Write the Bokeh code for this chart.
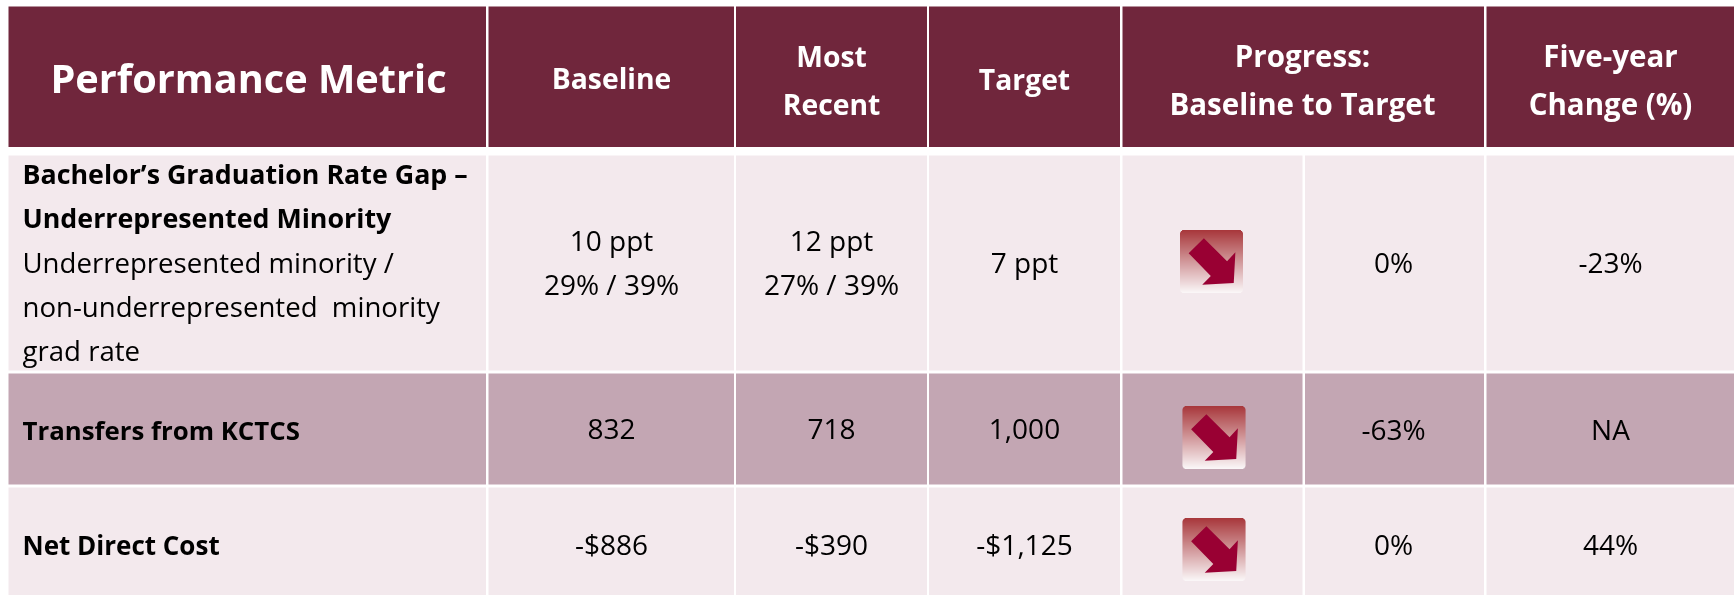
from bokeh.embed import file_html
from bokeh.resources import INLINE
from bokeh.plotting import figure
from bokeh.models import Range1d
from bokeh.core.properties import value

# ---- content
header_labels = [["Performance Metric"], ["Baseline"], ["Most", "Recent"], ["Target"],
                 ["Progress:", "Baseline to Target"], ["Five-year", "Change (%)"]]
metric_bold = [["Bachelor\u2019s Graduation Rate Gap \u2013", "Underrepresented Minority"],
               ["Transfers from KCTCS"], ["Net Direct Cost"]]
metric_sub = ["Underrepresented minority /", "non-underrepresented\u00a0 minority", "grad rate"]
baseline_vals = [["10 ppt", "29% / 39%"], ["832"], ["-$886"]]
recent_vals = [["12 ppt", "27% / 39%"], ["718"], ["-$390"]]
target_vals = [["7 ppt"], ["1,000"], ["-$1,125"]]
progress_vals = ["0%", "-63%", "0%"]
change_vals = ["-23%", "NA", "44%"]

MAROON, LIGHT, MID, BLACK = "#70263c", "#f3e9ed", "#c3a6b3", "#000000"
FONT = "Open Sans"
W, H = 1735, 595
p = figure(width=W, height=H, output_backend="svg", toolbar_location=None,
           x_range=Range1d(0, W), y_range=Range1d(H, 0), min_border=0,
           outline_line_color=None, background_fill_color="white", border_fill_color="white")
p.axis.visible = False
p.grid.visible = False
p.styles = {"position": "fixed", "left": "0", "top": "0"}

# ---- cells
head_edges = [(8, 485.5), (488, 733.5), (735.5, 926.5), (928.5, 1119.5), (1122, 1483.5), (1486, 1733.5)]
body_edges = [(8, 485.5), (488, 733.5), (735.5, 926.5), (928.5, 1119.5), (1122, 1302), (1304.5, 1483.5), (1486, 1733.5)]
row_edges = [(155, 370), (373, 484), (487, 595)]
row_fill = [LIGHT, MID, LIGHT]

p.quad(left=[e[0] for e in head_edges], right=[e[1] for e in head_edges],
       top=[6] * 6, bottom=[146.5] * 6, fill_color=MAROON, line_color=None)
for (t, b), c in zip(row_edges, row_fill):
    p.quad(left=[e[0] for e in body_edges], right=[e[1] for e in body_edges],
           top=[t] * 7, bottom=[b] * 7, fill_color=c, line_color=None)


def txt(x, y, s, size, bold=False, color=BLACK, align="center"):
    p.text(x=[x], y=[y - 0.38 * size], text=[s], text_font=value(FONT), text_font_size=f"{size}px",
           text_font_style="bold" if bold else "normal", text_color=color,
           text_align=align, text_baseline="alphabetic")


# ---- header text
HS = 29.5
txt(248, 93, header_labels[0][0], 39.7, True, "white")
txt(611, 88, header_labels[1][0], 28.3, True, "white")
txt(831, 66, header_labels[2][0], 28.3, True, "white")
txt(831, 114, header_labels[2][1], 28.3, True, "white")
txt(1024, 89, header_labels[3][0], 28.3, True, "white")
txt(1302, 66, header_labels[4][0], HS, True, "white")
txt(1302, 114, header_labels[4][1], HS, True, "white")
txt(1610, 66, header_labels[5][0], HS, True, "white")
txt(1610, 114, header_labels[5][1], HS, True, "white")

# ---- metric column
FS = 28
txt(22, 183, metric_bold[0][0], 26.8, True, align="left")
txt(22, 227, metric_bold[0][1], 26.8, True, align="left")
for y, s in zip([272, 316, 360], metric_sub):
    txt(22, y, s, 27.6, align="left")
txt(22, 439, metric_bold[1][0], 25.8, True, align="left")
txt(22, 554, metric_bold[2][0], 26, True, align="left")

# ---- value columns
txt(611, 250, baseline_vals[0][0], FS)
txt(611, 294, baseline_vals[0][1], FS)
txt(831, 250, recent_vals[0][0], FS)
txt(831, 294, recent_vals[0][1], FS)
txt(1024, 272, target_vals[0][0], FS)
ROW_Y = [272, 439, 554]
for i in (1, 2):
    txt(611, ROW_Y[i], baseline_vals[i][0], FS)
    txt(831, ROW_Y[i], recent_vals[i][0], FS)
    txt(1024, ROW_Y[i], target_vals[i][0], FS)
for i in range(3):
    txt(1393, ROW_Y[i], progress_vals[i], FS)
    txt(1610, ROW_Y[i], change_vals[i], FS)

# ---- arrow icons
ICON_W, ICON_H = 63, 63
icons = [(1179.5, 229.5), (1182, 405.5), (1182, 517.5)]
TOP_RGB, BOT_RGB = (168, 56, 60), (250, 246, 247)
ARROW_X = [.379, .747, .879, .853, .353, .489, .137]
ARROW_Y = [.132, .495, .353, .842, .868, .731, .368]
R = 4
for ox, oy in icons:
    ls, rs, ts, bs, cs = [], [], [], [], []
    for j in range(ICON_H):
        f = j / (ICON_H - 1)
        rgb = [round(a + (b - a) * f) for a, b in zip(TOP_RGB, BOT_RGB)]
        d = min(j, ICON_H - 1 - j)
        inset = 0
        if d < R:
            inset = R - (R * R - (R - d - .5) ** 2) ** .5
        ls.append(ox + inset); rs.append(ox + ICON_W - inset)
        ts.append(oy + j); bs.append(oy + j + 1.3 if j < ICON_H - 1 else oy + j + 1)
        cs.append("#%02x%02x%02x" % tuple(rgb))
    p.quad(left=ls, right=rs, top=ts, bottom=bs, fill_color=cs, line_color=None)
    p.patch(x=[ox + a * ICON_W for a in ARROW_X], y=[oy + a * ICON_H for a in ARROW_Y],
            fill_color="#990033", line_color=None)

open("out.html", "w").write(file_html(p, INLINE))
